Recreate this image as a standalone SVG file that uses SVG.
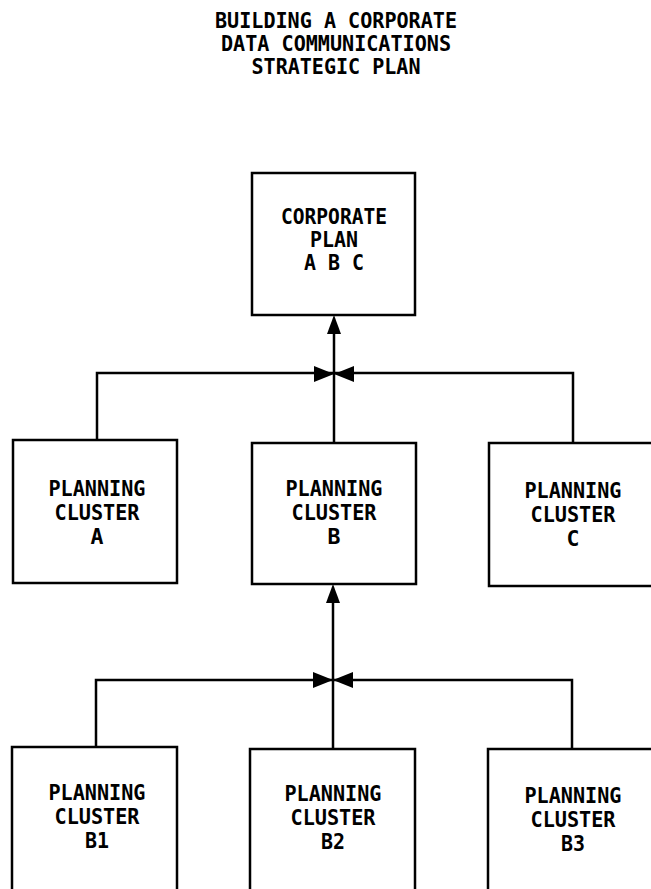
<svg xmlns="http://www.w3.org/2000/svg" width="651" height="889" viewBox="0 0 651 889">
<style>
text{font-family:"DejaVu Sans Mono","Liberation Mono",monospace;font-weight:bold;font-size:21.5px;fill:#000;text-anchor:middle}
.box{fill:#fff;stroke:#000;stroke-width:2.5}
.ln{fill:none;stroke:#000;stroke-width:2.5}
.ah{fill:#000;stroke:none}
</style>
<rect width="651" height="889" fill="#fff"/>
<g id="title">
<text x="336" y="28" textLength="242" lengthAdjust="spacingAndGlyphs">BUILDING A CORPORATE</text>
<text x="336" y="51" textLength="230" lengthAdjust="spacingAndGlyphs">DATA COMMUNICATIONS</text>
<text x="336" y="74" textLength="169" lengthAdjust="spacingAndGlyphs">STRATEGIC PLAN</text>
</g>
<g id="connectors">
<path class="ln" d="M97,440 V373 H573 V443"/>
<path class="ln" d="M334,443 V330"/>
<polygon class="ah" points="334,315 327,334 341,334"/>
<polygon class="ah" points="314,366 314,382 334,374"/>
<polygon class="ah" points="354,366 354,382 334,374"/>
<path class="ln" d="M96,747 V680 H572 V749"/>
<path class="ln" d="M333,749 V598"/>
<polygon class="ah" points="333,584 326,603 340,603"/>
<polygon class="ah" points="313,672 313,688 333,680"/>
<polygon class="ah" points="353,672 353,688 333,680"/>
</g>
<g id="corporate-plan">
<rect class="box" x="252" y="173" width="163" height="142"/>
<text x="334" y="224" textLength="106" lengthAdjust="spacingAndGlyphs">CORPORATE</text>
<text x="334" y="247" textLength="48" lengthAdjust="spacingAndGlyphs">PLAN</text>
<text x="334" y="270" textLength="60" lengthAdjust="spacingAndGlyphs">A B C</text>
</g>
<g id="cluster-a">
<rect class="box" x="13" y="440" width="164" height="143"/>
<text x="97" y="496" textLength="97" lengthAdjust="spacingAndGlyphs">PLANNING</text>
<text x="97" y="520" textLength="85" lengthAdjust="spacingAndGlyphs">CLUSTER</text>
<text x="97" y="544">A</text>
</g>
<g id="cluster-b">
<rect class="box" x="252" y="443" width="164" height="141"/>
<text x="334" y="496" textLength="97" lengthAdjust="spacingAndGlyphs">PLANNING</text>
<text x="334" y="520" textLength="85" lengthAdjust="spacingAndGlyphs">CLUSTER</text>
<text x="334" y="544">B</text>
</g>
<g id="cluster-c">
<rect class="box" x="489" y="443" width="180" height="143"/>
<text x="573" y="498" textLength="97" lengthAdjust="spacingAndGlyphs">PLANNING</text>
<text x="573" y="522" textLength="85" lengthAdjust="spacingAndGlyphs">CLUSTER</text>
<text x="573" y="546">C</text>
</g>
<g id="cluster-b1">
<rect class="box" x="12" y="747" width="165" height="160"/>
<text x="97" y="800" textLength="97" lengthAdjust="spacingAndGlyphs">PLANNING</text>
<text x="97" y="824" textLength="85" lengthAdjust="spacingAndGlyphs">CLUSTER</text>
<text x="97" y="848" textLength="24" lengthAdjust="spacingAndGlyphs">B1</text>
</g>
<g id="cluster-b2">
<rect class="box" x="250" y="749" width="165" height="160"/>
<text x="333" y="801" textLength="97" lengthAdjust="spacingAndGlyphs">PLANNING</text>
<text x="333" y="825" textLength="85" lengthAdjust="spacingAndGlyphs">CLUSTER</text>
<text x="333" y="849" textLength="24" lengthAdjust="spacingAndGlyphs">B2</text>
</g>
<g id="cluster-b3">
<rect class="box" x="488" y="749" width="180" height="160"/>
<text x="573" y="803" textLength="97" lengthAdjust="spacingAndGlyphs">PLANNING</text>
<text x="573" y="827" textLength="85" lengthAdjust="spacingAndGlyphs">CLUSTER</text>
<text x="573" y="851" textLength="24" lengthAdjust="spacingAndGlyphs">B3</text>
</g>
</svg>
